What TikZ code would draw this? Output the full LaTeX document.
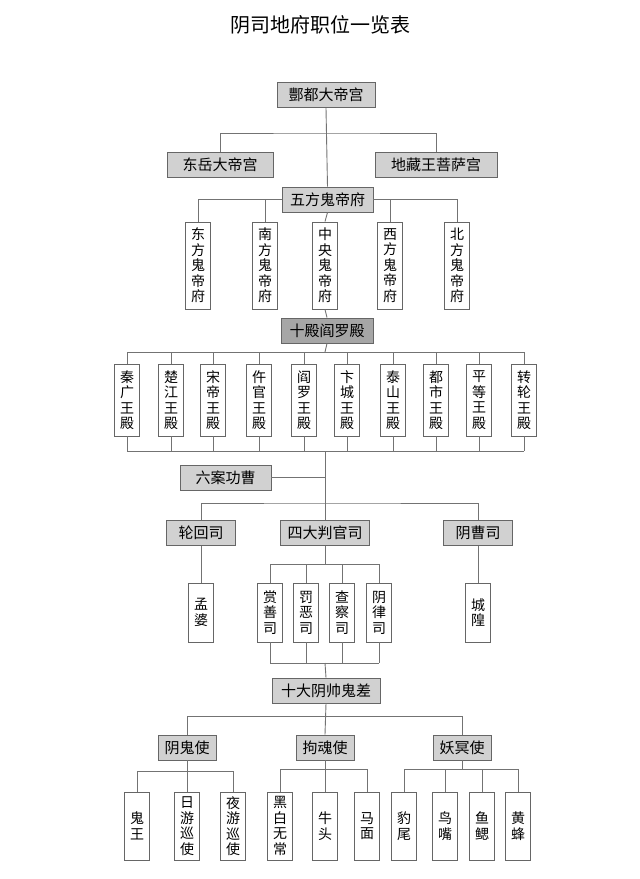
\documentclass[tikz,border=0pt]{standalone}
\usepackage{fontspec}
\newfontfamily\cjk{Noto Sans CJK SC}
\begin{document}
\begin{tikzpicture}[x=1pt,y=-1pt,
  hb/.style={draw=black!60,fill=black!18,line width=0.9pt,minimum height=25pt,inner sep=0pt,font=\fontsize{15}{17}\selectfont\cjk},
  hd/.style={hb,fill=black!35},
  vb/.style={draw=black!60,fill=white,line width=0.9pt,minimum width=25pt,inner sep=0pt,align=center,font=\fontsize{14}{15.5}\selectfont\cjk},
  ln/.style={draw=black!55,line width=0.9pt}]
\useasboundingbox (0,0) rectangle (640,879);
\node[font=\fontsize{20}{22}\selectfont\cjk] (title) at (320,25) {阴司地府职位一览表};
% level 1
\node[hb,minimum width=98pt] (fd) at (326,95) {酆都大帝宫};
\node[hb,minimum width=106pt] (dy) at (220,164.5) {东岳大帝宫};
\node[hb,minimum width=122pt] (dz) at (436,164.5) {地藏王菩萨宫};
\coordinate (b1) at (325,133);
\draw[ln] (dy.north) |- (b1) -| (dz.north);
\node[hb,minimum width=91pt] (wf) at (327.5,199.5) {五方鬼帝府};
\draw[ln] (fd.south) -- (wf.north);
% five
\coordinate (b2) at (325,201);
\foreach \n/\x/\t in {w1/198/东\\方\\鬼\\帝\\府, w2/265/南\\方\\鬼\\帝\\府, w3/325/中\\央\\鬼\\帝\\府, w4/390/西\\方\\鬼\\帝\\府, w5/457/北\\方\\鬼\\帝\\府}{
  \node[vb,minimum height=87pt] (\n) at (\x,265.5) {\t};
}
\draw[ln] (w1.north) |- (wf.west);
\draw[ln] (w2.north) -- (w2.north |- wf.west);
\draw[ln] (w5.north) |- (wf.east);
\draw[ln] (w4.north) -- (w4.north |- wf.east);
\draw[ln] (wf.south) -- (w3.north);
\node[hd,minimum width=92pt] (sd) at (327,330.5) {十殿阎罗殿};
\draw[ln] (w3.south) -- (sd.north);
% ten
\coordinate (b3) at (325,352);
\coordinate (b4) at (325,451);
\foreach \n/\x/\t in {d1/127/秦\\广\\王\\殿, d2/171/楚\\江\\王\\殿, d3/213/宋\\帝\\王\\殿, d4/259/仵\\官\\王\\殿, d5/304/阎\\罗\\王\\殿, d6/347/卞\\城\\王\\殿, d7/393/泰\\山\\王\\殿, d8/436/都\\市\\王\\殿, d9/479/平\\等\\王\\殿, d10/524/转\\轮\\王\\殿}{
  \node[vb,minimum height=72pt] (\n) at (\x,400) {\t};
  \draw[ln] (\n.north) -- (\n.north |- b3);
  \draw[ln] (\n.south) -- (\n.south |- b4);
}
\draw[ln] (sd.south) -- (b3);
\draw[ln] (d1.north |- b3) -- (d10.north |- b3);
\draw[ln] (d1.south |- b4) -- (d10.south |- b4);
% six
\node[hb,minimum width=91pt] (la) at (225.5,477.5) {六案功曹};
\coordinate (b5) at (325,503);
\draw[ln] (b4) -- (b5);
\draw[ln] (la.east) -- (la.east -| b4);
\node[hb,minimum width=69pt] (lh) at (201,533) {轮回司};
\node[hb,minimum width=89pt] (sp) at (325,533) {四大判官司};
\node[hb,minimum width=69pt] (yc) at (478,533) {阴曹司};
\draw[ln] (lh.north) |- (b5) -| (yc.north);
\draw[ln] (b5) -- (sp.north);
\node[vb,minimum height=59pt] (mp) at (201,612.5) {孟\\婆};
\node[vb,minimum height=59pt] (ch) at (478,612.5) {城\\隍};
\draw[ln] (lh.south) -- (mp.north);
\draw[ln] (yc.south) -- (ch.north);
\coordinate (b6) at (325,564);
\coordinate (b7) at (325,663);
\foreach \n/\x/\t in {s1/270/赏\\善\\司, s2/306/罚\\恶\\司, s3/342/查\\察\\司, s4/379/阴\\律\\司}{
  \node[vb,minimum height=59pt] (\n) at (\x,612.5) {\t};
  \draw[ln] (\n.north) -- (\n.north |- b6);
  \draw[ln] (\n.south) -- (\n.south |- b7);
}
\draw[ln] (sp.south) -- (b6);
\draw[ln] (s1.north |- b6) -- (s4.north |- b6);
\draw[ln] (s1.south |- b7) -- (s4.south |- b7);
\node[hb,minimum width=108pt] (sy) at (326,690.5) {十大阴帅鬼差};
\draw[ln] (b7) -- (sy.north);
% messengers
\coordinate (b8) at (325,716);
\node[hb,minimum width=58pt] (yg) at (187,747.5) {阴鬼使};
\node[hb,minimum width=58pt] (jh) at (325,747.5) {拘魂使};
\node[hb,minimum width=58pt] (ym) at (462,747.5) {妖冥使};
\draw[ln] (sy.south) -- (jh.north);
\draw[ln] (yg.north) |- (b8) -| (ym.north);
\coordinate (b9) at (187,771);
\coordinate (b10) at (325,769);
\coordinate (b11) at (462,769);
\foreach \n/\x/\t/\b in {g1/137/鬼\\王/b9, g2/187/日\\游\\巡\\使/b9, g3/233/夜\\游\\巡\\使/b9, h1/280/黑\\白\\无\\常/b10, h2/325/牛\\头/b10, h3/367/马\\面/b10, m1/404/豹\\尾/b11, m2/445/鸟\\嘴/b11, m3/482/鱼\\鳃/b11, m4/518/黄\\蜂/b11}{
  \node[vb,minimum height=68pt] (\n) at (\x,826) {\t};
  \draw[ln] (\n.north) -- (\n.north |- \b);
}
\draw[ln] (yg.south) -- (g2.north);
\draw[ln] (g1.north |- b9) -- (g3.north |- b9);
\draw[ln] (jh.south) -- (h2.north);
\draw[ln] (h1.north |- b10) -- (h3.north |- b10);
\draw[ln] (ym.south) -- (b11);
\draw[ln] (m1.north |- b11) -- (m4.north |- b11);
\end{tikzpicture}
\end{document}
